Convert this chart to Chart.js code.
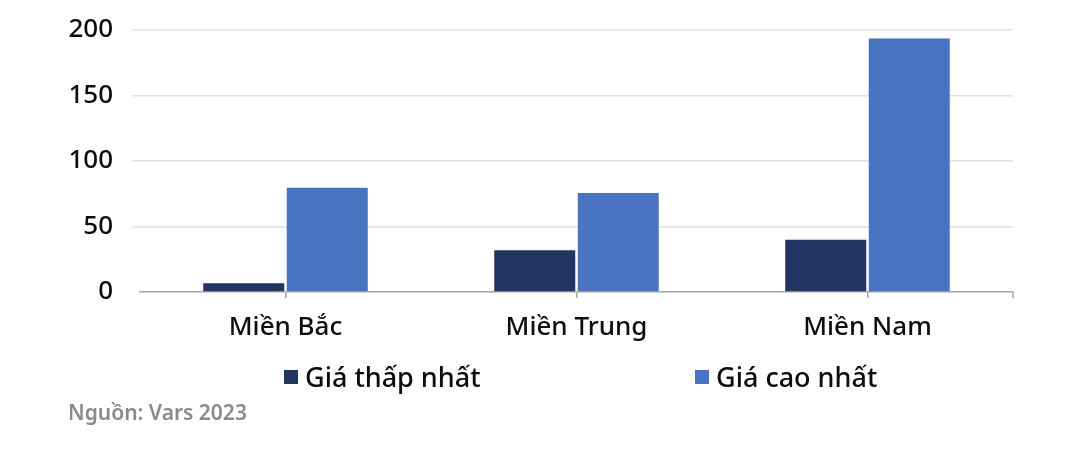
<!DOCTYPE html>
<html>
<head>
<meta charset="utf-8">
<script src="https://cdn.jsdelivr.net/npm/chart.js@4.4.1/dist/chart.umd.min.js"></script>
<style>
  html, body { margin: 0; padding: 0; background: #ffffff; }
  #wrap { position: relative; width: 1066px; height: 460px; font-family: "Noto Sans", sans-serif; }
  #c { position: absolute; left: 0; top: 0; }
  #legend { position: absolute; top: 362px; left: 0; width: 1066px; height: 30px; }
  .item { position: absolute; top: 0; display: flex; align-items: center; font-size: 27px; font-weight: 500; color: #0d0d0d; white-space: nowrap; line-height: 30px; }
  .box { width: 14px; height: 14px; margin-right: 7px; }
  #source { position: absolute; left: 68px; top: 398px; font-size: 21px; font-weight: 600; color: #8a8a8a; }
</style>
</head>
<body>
<div id="wrap">
  <canvas id="c" width="1066" height="460"></canvas>
  <div id="legend"></div>
  <div id="source">Nguồn: Vars 2023</div>
</div>
<script>
const categories = ["Miền Bắc", "Miền Trung", "Miền Nam"];
const seriesNames = ["Giá thấp nhất", "Giá cao nhất"];
const lowPrices = [6.6, 31.8, 39.8];
const highPrices = [79.5, 75.5, 193.5];
const seriesColors = ["#213462", "#4874C1"];
const yTicks = [0, 50, 100, 150, 200];
const legendLefts = [284, 695];

const FONT = '"Noto Sans", sans-serif';

// adds the closing tick mark at the right end of the category axis
const endTick = {
  id: 'endTick',
  afterDraw(chart) {
    const x = chart.scales.x;
    const c = chart.ctx;
    c.save();
    c.strokeStyle = '#a6a6a6';
    c.lineWidth = 1.5;
    c.beginPath();
    c.moveTo(x.right, x.top);
    c.lineTo(x.right, x.top + 6);
    c.stroke();
    c.restore();
  }
};

const ctx = document.getElementById('c').getContext('2d');
const chart = new Chart(ctx, {
  type: 'bar',
  data: {
    labels: categories,
    datasets: [
      { label: seriesNames[0], data: lowPrices, backgroundColor: seriesColors[0], barPercentage: 0.97, categoryPercentage: 0.574 },
      { label: seriesNames[1], data: highPrices, backgroundColor: seriesColors[1], barPercentage: 0.97, categoryPercentage: 0.574 }
    ]
  },
  plugins: [endTick],
  options: {
    responsive: false,
    animation: false,
    devicePixelRatio: 1,
    layout: { padding: { top: 30, right: 53, bottom: 110, left: 0 } },
    plugins: {
      legend: { display: false },
      tooltip: { enabled: false }
    },
    scales: {
      x: {
        offset: true,
        grid: { offset: false, drawOnChartArea: false, drawTicks: true, tickLength: 6, color: '#a6a6a6', lineWidth: 1.5 },
        border: { display: true, color: '#a6a6a6', width: 1.5 },
        ticks: { color: '#0d0d0d', font: { family: FONT, size: 26, weight: 500 }, padding: 14, maxRotation: 0 },
        afterFit: s => { s.height = 58; s.paddingLeft = 0; s.paddingRight = 0; }
      },
      y: {
        min: 0, max: 200,
        afterBuildTicks: s => { s.ticks = yTicks.map(v => ({ value: v })); },
        grid: { color: ctx => ctx.tick && ctx.tick.value === 0 ? 'rgba(0,0,0,0)' : '#e2e2e2', drawTicks: true, tickLength: 8, lineWidth: 1.5 },
        border: { display: false },
        ticks: { color: '#0d0d0d', font: { family: FONT, size: 26, weight: 500 }, padding: 19 },
        afterFit: s => { s.width = 140; s.paddingTop = 0; s.paddingBottom = 0; }
      }
    }
  }
});

const legend = document.getElementById('legend');
seriesNames.forEach((name, i) => {
  const item = document.createElement('div');
  item.className = 'item';
  item.style.left = legendLefts[i] + 'px';
  const box = document.createElement('span');
  box.className = 'box';
  box.style.background = seriesColors[i];
  const txt = document.createElement('span');
  txt.textContent = name;
  item.appendChild(box);
  item.appendChild(txt);
  legend.appendChild(item);
});
</script>
</body>
</html>
